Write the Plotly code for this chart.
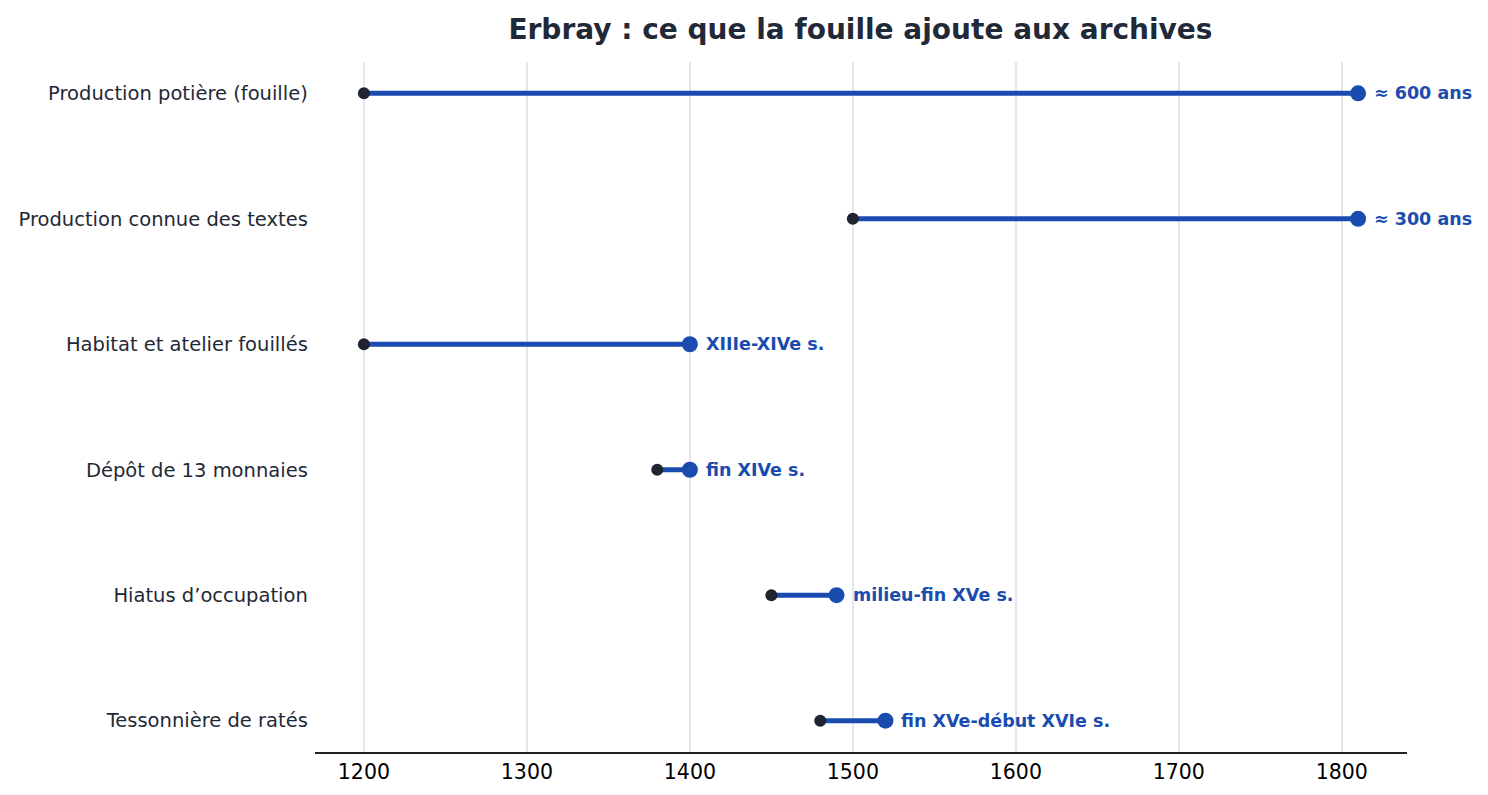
import plotly.graph_objects as go

categories = ['Production potière (fouille)', 'Production connue des textes',
              'Habitat et atelier fouillés', 'Dépôt de 13 monnaies',
              'Hiatus d’occupation', 'Tessonnière de ratés']
starts = [1200, 1500, 1200, 1380, 1450, 1480]
ends = [1810, 1810, 1400, 1400, 1490, 1520]
labels = ['≈ 600 ans', '≈ 300 ans', 'XIIIe-XIVe s.', 'fin XIVe s.',
          'milieu-fin XVe s.', 'fin XVe-début XVIe s.']

blue = '#1a4cb0'
dark = '#1f2430'

fig = go.Figure()

# segments
for cat, s, e in zip(categories, starts, ends):
    fig.add_trace(go.Scatter(x=[s, e], y=[cat, cat], mode='lines',
                             line=dict(color=blue, width=5),
                             showlegend=False, hoverinfo='skip'))

fig.add_trace(go.Scatter(x=starts, y=categories, mode='markers',
                         marker=dict(color=dark, size=12), showlegend=False))
fig.add_trace(go.Scatter(x=ends, y=categories, mode='markers',
                         marker=dict(color=blue, size=16), showlegend=False))

for cat, e, lab in zip(categories, ends, labels):
    fig.add_annotation(x=e, y=cat, text='<b>' + lab + '</b>', showarrow=False,
                       xanchor='left', xshift=14,
                       font=dict(color=blue, size=17.5, family='DejaVu Sans'))

fig.update_layout(
    title=dict(text='<b>Erbray : ce que la fouille ajoute aux archives</b>',
               x=0.576, xanchor='center', y=0.985, yanchor='top',
               font=dict(size=28, color='#1f2937', family='DejaVu Sans')),
    width=1480, height=787,
    margin=dict(l=307, r=81, t=54, b=43),
    plot_bgcolor='white', paper_bgcolor='white',
    font=dict(family='DejaVu Sans'),
)
fig.update_xaxes(range=[1170, 1840], tickvals=[1200, 1300, 1400, 1500, 1600, 1700, 1800],
                 showgrid=True, gridcolor='#e3e8ec', gridwidth=1.5,
                 showline=True, linecolor='#222222', linewidth=2,
                 ticks='', zeroline=False, automargin=False,
                 tickfont=dict(size=20.5, color='black'))
fig.update_yaxes(categoryorder='array', categoryarray=categories[::-1],
                 range=[-0.25, 5.25], showgrid=False, zeroline=False,
                 ticks='', ticksuffix=' ', automargin=False,
                 tickfont=dict(size=19.5, color='#1f2937'))

fig.write_html('out.html')
